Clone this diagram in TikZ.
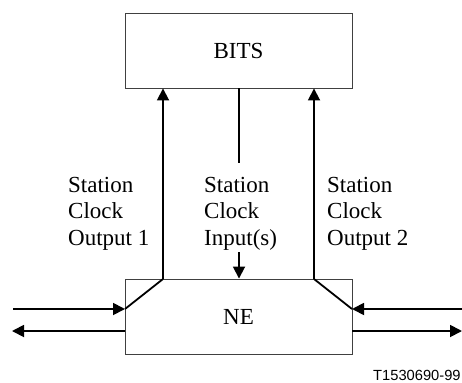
\documentclass[tikz,border=0pt]{standalone}
\usepackage{fontspec}
\setmainfont{Liberation Serif}
\newfontfamily\labsans{Liberation Sans}
\usetikzlibrary{arrows.meta}
\begin{document}
\begin{tikzpicture}[x=1pt,y=-1pt,
  box/.style={draw=black!75,line width=0.9pt,minimum width=227pt,minimum height=75pt,inner sep=0pt,font=\fontsize{23}{26}\selectfont},
  wire/.style={line width=1.8pt},
  arr/.style={wire,-{Triangle[length=12pt,width=12pt]}},
  lab/.style={anchor=base west,inner sep=0pt,font=\fontsize{23}{26.5}\selectfont}]
\useasboundingbox (0,0) rectangle (462,382);
\node[box] (bits) at (238.5,50.5) {BITS};
\node[box] (ne) at (238.5,316.5) {NE};
% coordinates
\coordinate (lt) at (163,279);
\coordinate (rt) at (314,279);
\coordinate (lw) at (125,309);
\coordinate (rw) at (352,309);
\coordinate (lo) at (125,331);
\coordinate (ro) at (352,331);
\coordinate (lin) at (13,309);
\coordinate (lout) at (12,331);
\coordinate (rin) at (462,309);
\coordinate (rout) at (462,331);
\coordinate (cend) at (239,163);
\coordinate (cstart) at (239,252);
% connectors
\draw[arr] (lt) -- (bits.south -| lt);
\draw[arr] (rt) -- (bits.south -| rt);
\draw[wire] (lt) -- (lw);
\draw[wire] (rt) -- (rw);
\draw[wire] (bits.south -| cend) -- (cend);
\draw[arr] (cstart) -- (ne.north -| cstart);
\draw[arr] (lin) -- (lw);
\draw[arr] (lo) -- (lout);
\draw[arr] (rin) -- (rw);
\draw[arr] (ro) -- (rout);
% labels
\node[lab] (l1a) at (68,192) {Station};
\node[lab] (l1b) at (68,218.5) {Clock};
\node[lab] (l1c) at (68,245) {Output 1};
\node[lab] (l2a) at (204,192) {Station};
\node[lab] (l2b) at (204,218.5) {Clock};
\node[lab] (l2c) at (204,245) {Input(s)};
\node[lab] (l3a) at (327,192) {Station};
\node[lab] (l3b) at (327,218.5) {Clock};
\node[lab] (l3c) at (327,245) {Output 2};
\node[anchor=base west,inner sep=0pt,font=\labsans\fontsize{14.7}{17}\selectfont] (tag) at (373,380) {T1530690-99};
\end{tikzpicture}
\end{document}
